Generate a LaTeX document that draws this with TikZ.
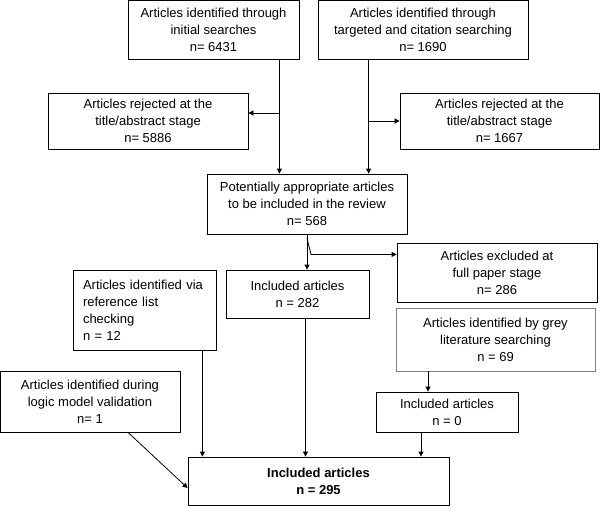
\documentclass[tikz,border=0pt]{standalone}
\usepackage{fontspec}
\setmainfont{Liberation Sans}
\usetikzlibrary{arrows.meta}

\begin{document}
\begin{tikzpicture}[x=1pt,y=-1pt,line width=0.8pt,
				every node/.style={draw,align=center,inner sep=0pt,font=\fontsize{13}{17}\selectfont},
				arr/.style={-{Triangle[length=5pt,width=5pt]}}]
\useasboundingbox (0,0) rectangle (600,506);
\node[minimum width=171pt,minimum height=59pt] (init) at (213.5,30) {Articles identified through\\initial searches\\n= 6431};
\node[minimum width=210pt,minimum height=59pt] (targ) at (423,30) {Articles identified through\\targeted and citation searching\\n= 1690};
\node[minimum width=200pt,minimum height=56pt] (rejl) at (148,121) {Articles rejected at the\\title/abstract stage\\n= 5886};
\node[minimum width=199pt,minimum height=56pt] (rejr) at (499.5,121) {Articles rejected at the\\title/abstract stage\\n= 1667};
\node[minimum width=200pt,minimum height=60pt] (pot) at (307,204) {Potentially appropriate articles\\to be included in the review\\n= 568};
\node[minimum width=143pt,minimum height=48pt] (inca) at (297.5,294) {Included articles\\n = 282};
\node[minimum width=200pt,minimum height=59pt] (excl) at (497,272.5) {Articles excluded at\\full paper stage\\n= 286};
\node[draw=gray,minimum width=199pt,minimum height=63pt] (grey) at (495.5,339.5) {Articles identified by grey\\literature searching\\n = 69};
\node[minimum width=142pt,minimum height=40pt] (incb) at (447,412) {Included articles\\n = 0};
\node[minimum width=143pt,minimum height=80pt,align=left,text width=123pt,inner xsep=10pt] (ref) at (144.5,310) {Articles identified via\\reference list\\checking\\n = 12};
\node[minimum width=180pt,minimum height=61pt] (logic) at (90,401.5) {Articles identified during\\logic model validation\\n= 1};
\node[minimum width=261pt,minimum height=48pt,font=\fontsize{13}{17}\selectfont\bfseries] (total) at (318.5,481) {Included articles\\n = 295};
\draw[arr] ([xshift=-20pt]init.south east) -- ([xshift=-20pt]init.south east |- pot.north);
\draw[arr] ([xshift=-20pt]init.south east |- rejl.east) ++(0,-8) -- ([yshift=8pt]rejl.east);
\draw[arr] ([xshift=51pt]targ.south west) -- ([xshift=51pt]targ.south west |- pot.north);
\draw[arr] ([xshift=51pt]targ.south west |- rejr.west) -- (rejr.west);
\draw[arr] (pot.south) -- (pot.south |- inca.north);
\draw[arr] ([yshift=-4pt]pot.south) -- ++(4,16) coordinate (bend) -- (bend -| excl.west);
\draw[arr] ([xshift=8pt]inca.south) -- ([xshift=8pt]inca.south |- total.north);
\draw[arr] ([xshift=-19pt]incb.north |- grey.south) -- ([xshift=-19pt]incb.north);
\draw[arr] ([xshift=-26pt]incb.south) -- ([xshift=-26pt]incb.south |- total.north);
\draw[arr] ([xshift=-14pt]ref.south east) -- ([xshift=-14pt]ref.south east |- total.north);
\draw[arr] ([xshift=38pt]logic.south) -- ([yshift=-7pt]total.west);
\end{tikzpicture}
\end{document}
